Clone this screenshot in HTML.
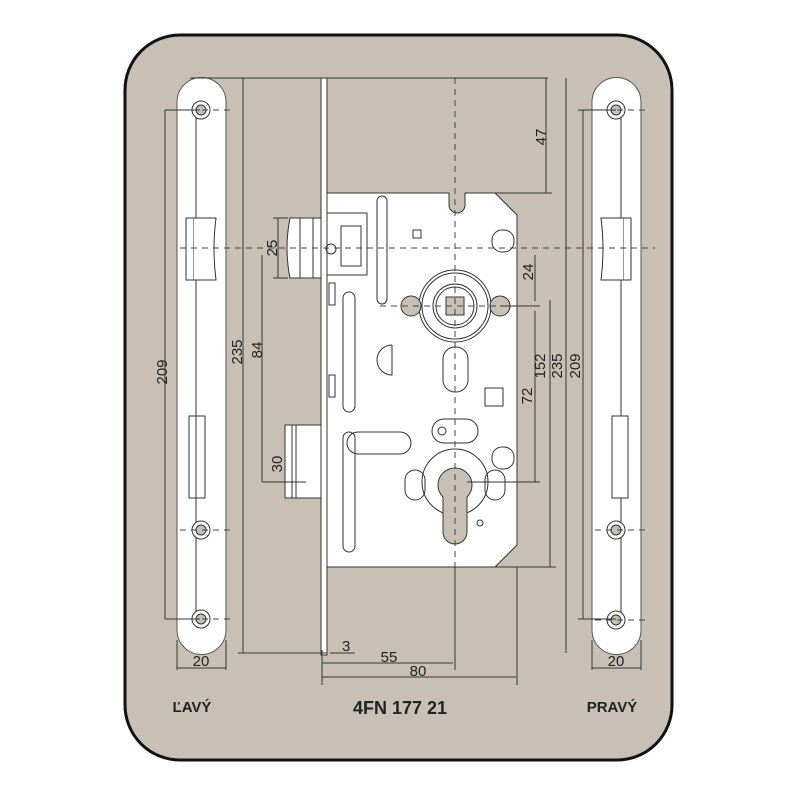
<!DOCTYPE html>
<html><head><meta charset="utf-8"><style>
html,body{margin:0;padding:0;background:#fff;width:800px;height:800px;overflow:hidden}
svg text{font-family:"Liberation Sans",sans-serif;fill:#222}
</style></head><body>
<svg width="800" height="800" viewBox="0 0 800 800" xmlns="http://www.w3.org/2000/svg">
<rect x="125" y="35" width="547" height="725" rx="55" fill="#c9c0b5" stroke="#111" stroke-width="3"/>
<g stroke="#333" stroke-width="1" fill="none">
<path d="M177,102 A24.5,24.5 0 0 1 226,102 L226,630 A24.5,24.5 0 0 1 177,630 Z" fill="#fff" stroke="#555"/>
<line x1="196" y1="110" x2="196" y2="620"/>
<rect x="186" y="218" width="8" height="62" fill="#fff"/>
<path d="M194,218 L216,218 Q212,249 216,280 L194,280" fill="#fff"/>
<rect x="189" y="416" width="16" height="82" fill="#fff"/>
<line x1="196" y1="416" x2="196" y2="498"/>
<circle cx="201" cy="110" r="9" fill="#fff"/><circle cx="201" cy="110" r="5" fill="#c9c0b5"/>
<circle cx="201" cy="530" r="9" fill="#fff"/><circle cx="201" cy="530" r="5" fill="#c9c0b5"/>
<circle cx="201" cy="619" r="9" fill="#fff"/><circle cx="201" cy="619" r="5" fill="#c9c0b5"/>
<path d="M592,102 A24.5,24.5 0 0 1 641,102 L641,630 A24.5,24.5 0 0 1 592,630 Z" fill="#fff" stroke="#555"/>
<line x1="621" y1="110" x2="621" y2="620"/>
<rect x="623" y="218" width="8" height="62" fill="#fff"/>
<path d="M623,218 L601,218 Q605,249 601,280 L623,280" fill="#fff"/>
<rect x="612" y="416" width="16" height="82" fill="#fff"/>
<circle cx="616" cy="110" r="9" fill="#fff"/><circle cx="616" cy="110" r="5" fill="#c9c0b5"/>
<circle cx="616" cy="530" r="9" fill="#fff"/><circle cx="616" cy="530" r="5" fill="#c9c0b5"/>
<circle cx="616" cy="620" r="9" fill="#fff"/><circle cx="616" cy="620" r="5" fill="#c9c0b5"/>
<rect x="321" y="78" width="6" height="577" fill="#fff" stroke="#333"/>
<path d="M327,193 L449,193 L449,205 A6,6 0 0 0 465,205 L465,193 L495,193 L517,215 L517,545 L495,567 L327,567 Z" fill="#fff" stroke="#333"/>
<path d="M290,218 L321,218 L321,278 L290,278 Q284,248 290,218 Z" fill="#fff"/>
<line x1="300" y1="218" x2="300" y2="278"/><line x1="313" y1="218" x2="313" y2="278"/>
<rect x="327" y="213" width="40" height="62"/>
<rect x="341" y="226" width="20" height="40"/>
<circle cx="331" cy="249" r="5"/>
<rect x="285" y="425" width="36" height="73" fill="#fff"/>
<line x1="292" y1="425" x2="292" y2="498"/><line x1="296" y1="425" x2="296" y2="498"/>
<rect x="377" y="196" width="10" height="108" rx="5"/>
<rect x="343" y="292" width="12" height="120" rx="6"/>
<rect x="343" y="432" width="12" height="120" rx="6"/>
<rect x="347" y="432" width="64" height="22" rx="11"/>
<rect x="413" y="230" width="8" height="8"/>
<rect x="329" y="283" width="6" height="22"/><rect x="329" y="375" width="6" height="22"/>
<circle cx="455" cy="306" r="36"/><circle cx="455" cy="306" r="33"/>
<circle cx="455" cy="306" r="22"/><circle cx="455" cy="306" r="19"/>
<rect x="446" y="297" width="18" height="18" fill="#c9c0b5"/>
<circle cx="411" cy="306" r="10" fill="#c9c0b5"/><circle cx="500" cy="306" r="10" fill="#c9c0b5"/>
<rect x="443" y="347" width="25" height="45" rx="12"/>
<path d="M392,345 A15,15 0 0 0 392,375 L392,345"/>
<rect x="485" y="388" width="18" height="18"/>
<rect x="432" y="419" width="46" height="24" rx="12"/>
<circle cx="442" cy="431" r="4"/>
<rect x="492" y="230" width="22" height="22" rx="10"/>
<rect x="492" y="447" width="22" height="22" rx="10"/>
<circle cx="455" cy="482" r="33"/>
<path d="M443,497 A17,17 0 1 1 467,497 L467,532 A12,12 0 0 1 443,532 Z" fill="#c9c0b5"/>
<rect x="405" y="470" width="20" height="30" rx="10"/><rect x="485" y="470" width="20" height="30" rx="10"/>
<circle cx="480" cy="523" r="3"/>
</g>
<g stroke="#444" stroke-width="1" stroke-dasharray="6,5" fill="none">
<line x1="455" y1="78" x2="455" y2="670"/>
<line x1="180" y1="248" x2="655" y2="248"/>
<line x1="380" y1="306" x2="500" y2="306"/>
<line x1="180" y1="110" x2="235" y2="110"/><line x1="595" y1="110" x2="650" y2="110"/>
<line x1="180" y1="530" x2="235" y2="530"/><line x1="595" y1="530" x2="650" y2="530"/>
<line x1="180" y1="619" x2="235" y2="619"/><line x1="595" y1="620" x2="650" y2="620"/>
</g>
<g stroke="#333" stroke-width="1" fill="none">
<line x1="190" y1="78" x2="548" y2="78"/>
<line x1="243" y1="78" x2="243" y2="653"/>
<line x1="165" y1="110" x2="200" y2="110"/><line x1="165" y1="110" x2="165" y2="619"/><line x1="165" y1="619" x2="200" y2="619"/>
<line x1="262" y1="255" x2="262" y2="482"/>
<line x1="273" y1="218" x2="288" y2="218"/><line x1="273" y1="278" x2="288" y2="278"/><line x1="278" y1="218" x2="278" y2="278"/>
<line x1="285" y1="425" x2="285" y2="498"/>
<line x1="262" y1="482" x2="306" y2="482"/>
<line x1="238" y1="653" x2="327" y2="653"/>
<line x1="177" y1="668" x2="226" y2="668"/><line x1="177" y1="640" x2="177" y2="670"/><line x1="226" y1="640" x2="226" y2="670"/>
<line x1="592" y1="668" x2="641" y2="668"/><line x1="592" y1="640" x2="592" y2="670"/><line x1="641" y1="640" x2="641" y2="670"/>
<line x1="330" y1="653" x2="355" y2="653"/>
<line x1="322" y1="663" x2="453" y2="663"/>
<line x1="322" y1="677" x2="516" y2="677"/>
<line x1="322" y1="650" x2="322" y2="685"/><line x1="455" y1="567" x2="455" y2="670"/><line x1="517" y1="567" x2="517" y2="685"/>
<line x1="546" y1="78" x2="546" y2="193"/><line x1="495" y1="193" x2="552" y2="193"/>
<line x1="566" y1="78" x2="566" y2="653"/><line x1="583" y1="110" x2="583" y2="619"/>
<line x1="578" y1="110" x2="616" y2="110"/><line x1="578" y1="619" x2="616" y2="619"/>
<line x1="535" y1="255" x2="535" y2="301"/><line x1="535" y1="311" x2="535" y2="482"/>
<line x1="500" y1="306" x2="540" y2="306"/><line x1="467" y1="482" x2="540" y2="482"/>
<line x1="550" y1="300" x2="550" y2="567"/><line x1="490" y1="567" x2="556" y2="567"/>
</g>
<g font-size="15">
<text transform="translate(546,137) rotate(-90)" text-anchor="middle">47</text>
<text transform="translate(277,248) rotate(-90)" text-anchor="middle">25</text>
<text transform="translate(242,352) rotate(-90)" text-anchor="middle">235</text>
<text transform="translate(262,350) rotate(-90)" text-anchor="middle">84</text>
<text transform="translate(167,372) rotate(-90)" text-anchor="middle">209</text>
<text transform="translate(282,464) rotate(-90)" text-anchor="middle">30</text>
<text transform="translate(533,272) rotate(-90)" text-anchor="middle">24</text>
<text transform="translate(545,366) rotate(-90)" text-anchor="middle">152</text>
<text transform="translate(532,396) rotate(-90)" text-anchor="middle">72</text>
<text transform="translate(562,366) rotate(-90)" text-anchor="middle">235</text>
<text transform="translate(580,366) rotate(-90)" text-anchor="middle">209</text>
<text x="201" y="666" text-anchor="middle">20</text>
<text x="616" y="666" text-anchor="middle">20</text>
<text x="342" y="651">3</text>
<text x="389" y="662" text-anchor="middle">55</text>
<text x="418" y="676" text-anchor="middle">80</text>
</g>
<g font-size="15" font-weight="bold">
<text x="192" y="712" text-anchor="middle">ĽAVÝ</text>
<text x="400" y="714" text-anchor="middle" font-size="18">4FN 177 21</text>
<text x="612" y="712" text-anchor="middle">PRAVÝ</text>
</g>
</svg>
</body></html>
